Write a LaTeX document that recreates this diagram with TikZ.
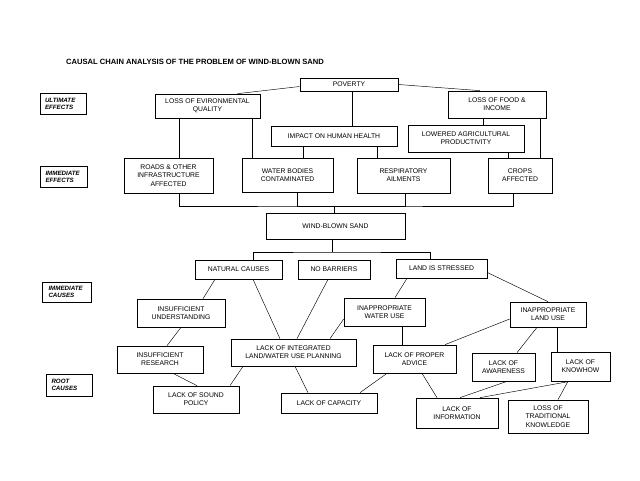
\documentclass[tikz,border=0pt]{standalone}
\usepackage{fontspec}
\setmainfont{Liberation Sans}
\begin{document}
\begin{tikzpicture}[x=1pt,y=-1pt,
  box/.style={draw,line width=.7pt,align=center,inner sep=1pt,font=\fontsize{6.8}{8.3}\selectfont},
  lab/.style={draw,line width=.7pt,align=left,text width=36,inner xsep=5,inner ysep=1pt,font=\bfseries\itshape\fontsize{6.2}{7.2}\selectfont},
  wh/.style 2 args={minimum width=#1,minimum height=#2},
  link/.style={line width=.45pt}]
  \useasboundingbox (0,0) rectangle (640,480);

  \node[anchor=west,inner sep=0,font=\bfseries\fontsize{7.6}{9}\selectfont] (title) at (66,62) {CAUSAL CHAIN ANALYSIS OF THE PROBLEM OF WIND-BLOWN SAND};

  % levels
  \node[lab,wh={46}{21}] (ult) at (63,103.5) {ULTIMATE\\EFFECTS};
  \node[lab,wh={47}{21}] (imeff) at (63.5,176.5) {IMMEDIATE\\EFFECTS};
  \node[lab,wh={49}{20}] (imcau) at (66.5,292) {IMMEDIATE\\CAUSES};
  \node[lab,wh={45}{22}] (root) at (69.5,385) {ROOT\\CAUSES};

  % effects
  \node[box,wh={98}{13}] (pov) at (349,84.5) {POVERTY};
  \node[box,wh={105}{24}] (env) at (207.5,106) {LOSS OF EVIRONMENTAL\\QUALITY};
  \node[box,wh={98}{27}] (food) at (497,104.5) {LOSS OF FOOD \&\\INCOME};
  \node[box,wh={126}{20}] (health) at (334,136) {IMPACT ON HUMAN HEALTH};
  \node[box,wh={116}{27}] (lowag) at (466,138.5) {LOWERED AGRICULTURAL\\PRODUCTIVITY};
  \node[box,wh={89}{35}] (roads) at (168.5,175.5) {ROADS \& OTHER\\INFRASTRUCTURE\\AFFECTED};
  \node[box,wh={91}{34}] (water) at (287.5,175) {WATER BODIES\\CONTAMINATED};
  \node[box,wh={93}{35}] (resp) at (403.5,175.5) {RESPIRATORY\\AILMENTS};
  \node[box,wh={64}{35}] (crops) at (520,175.5) {CROPS\\AFFECTED};

  \node[box,wh={139}{26}] (wind) at (335.5,226) {WIND-BLOWN SAND};

  % causes
  \node[box,wh={87}{19}] (nat) at (238.5,269.5) {NATURAL CAUSES};
  \node[box,wh={72}{19}] (nobar) at (334,269.5) {NO BARRIERS};
  \node[box,wh={91}{19}] (stress) at (441.5,268.5) {LAND IS STRESSED};
  \node[box,wh={88}{28}] (und) at (181,313) {INSUFFICIENT\\UNDERSTANDING};
  \node[box,wh={81}{28}] (wuse) at (384.5,312) {INAPPROPRIATE\\WATER USE};
  \node[box,wh={76}{25}] (luse) at (548,314.5) {INAPPROPRIATE\\LAND USE};
  \node[box,wh={86}{27}] (res) at (160,359.5) {INSUFFICIENT\\RESEARCH};
  \node[box,wh={125}{27}] (integ) at (293.5,352.5) {LACK OF INTEGRATED\\LAND/WATER USE PLANNING};
  \node[box,wh={83}{28}] (advice) at (414.5,359) {LACK OF PROPER\\ADVICE};
  \node[box,wh={63}{28}] (aware) at (503.5,367) {LACK OF\\AWARENESS};
  \node[box,wh={59}{29}] (know) at (580.5,366.5) {LACK OF\\KNOWHOW};
  \node[box,wh={86}{27}] (policy) at (196,399.5) {LACK OF SOUND\\POLICY};
  \node[box,wh={96}{20}] (capac) at (329,403) {LACK OF CAPACITY};
  \node[box,wh={82}{30}] (info) at (457,413) {LACK OF\\INFORMATION};
  \node[box,wh={80}{33}] (trad) at (548,416.5) {LOSS OF\\TRADITIONAL\\KNOWLEDGE};

  \coordinate (bus) at (334,206);
  \coordinate (fork) at (332,252);

  % top links
  \draw[link] ([yshift=-2]pov.west) -- ([xshift=30]env.north);
  \draw[link] (pov.east) -- ([xshift=-17]food.north);
  \draw[link] ([xshift=3]pov.south) -- ([xshift=18]health.north);
  \draw[link] ([xshift=-28.5]env.south) -- ([xshift=10.5]roads.north);
  \draw[link] ([xshift=44.5]env.south) -- ([xshift=-35.5]water.north);
  \draw[link] ([xshift=-31]health.south) -- ([xshift=15.5]water.north);
  \draw[link] ([xshift=43]health.south) -- ([xshift=-26.5]resp.north);
  \draw[link] ([xshift=-14]food.south) -- ([xshift=17]lowag.north);
  \draw[link] ([xshift=43]food.south) -- ([xshift=20]crops.north);
  \draw[link] ([xshift=42]lowag.south) -- ([xshift=-12]crops.north);

  % collector
  \draw[line width=.6pt] ([xshift=10.5]roads.south) |- (bus) -| ([xshift=-7]crops.south);
  \draw[line width=.6pt] ([xshift=9.5]water.south) |- (bus);
  \draw[line width=.6pt] ([xshift=1.5]resp.south) |- (bus);
  \draw[line width=.6pt] (bus) -- ([xshift=-1.5]wind.north);
  \draw[line width=.6pt] ([xshift=-3.5]wind.south) -- (fork);
  \draw[line width=.6pt] ([xshift=14.5]nat.north) |- (fork) -| ([xshift=-11.5]stress.north);

  % cause links
  \draw[link] ([xshift=-23.5]nat.south) -- ([xshift=22]und.north);
  \draw[link] ([xshift=14.5]nat.south) -- ([xshift=-13.5]integ.north);
  \draw[link] ([xshift=-6]nobar.south) -- ([xshift=3.5]integ.north);
  \draw[link] ([xshift=-34.5]stress.south) -- ([xshift=10.5]wuse.north);
  \draw[link] ([yshift=-4]stress.east) -- (luse.north);
  \draw[link] (und.south) -- ([xshift=7]res.north);
  \draw[link] ([xshift=36.5]integ.north) -- ([yshift=-7]wuse.west);
  \draw[link] ([xshift=17.5]wuse.south) -- ([xshift=-12.5]advice.north);
  \draw[link] ([yshift=-4.5]luse.west) -- ([xshift=30.5]advice.north);
  \draw[link] ([xshift=-11]luse.south) -- ([xshift=13.5]aware.north);
  \draw[link] ([xshift=9]luse.south) -- ([xshift=-23.5]know.north);
  \draw[link] ([xshift=13]res.south) -- ([xshift=1]policy.north);
  \draw[link] ([xshift=-50.5]integ.south) -- ([xshift=34]policy.north);
  \draw[link] ([xshift=1.5]integ.south) -- ([xshift=-21]capac.north);
  \draw[link] ([xshift=-27.5]advice.south) -- ([xshift=31]capac.north);
  \draw[link] ([xshift=7.5]advice.south) -- ([xshift=-20]info.north);
  \draw[link] ([xshift=3.5]aware.south) -- ([xshift=3]info.north);
  \draw[link] ([xshift=-10.5]know.south) -- ([xshift=23]info.north);
  \draw[link] ([xshift=-12.5]know.south) -- ([xshift=10]trad.north);

\end{tikzpicture}
\end{document}
